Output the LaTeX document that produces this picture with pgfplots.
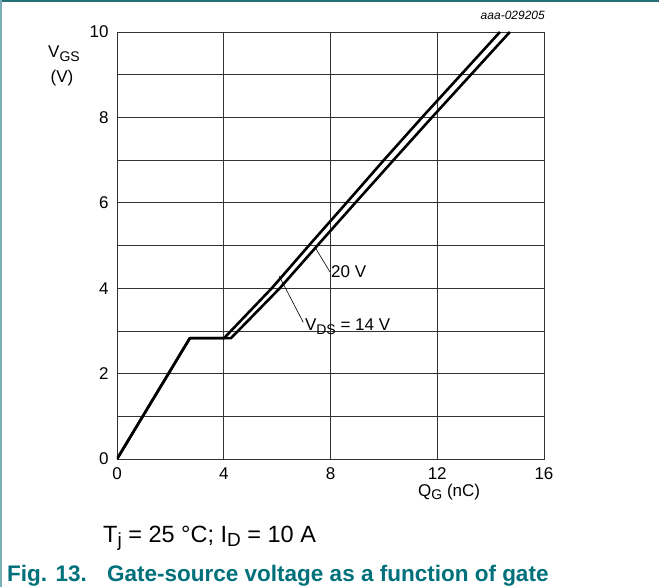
\documentclass[border=0pt]{standalone}
\usepackage{fontspec}
\setmainfont{Liberation Sans}
\usepackage{pgfplots}
\pgfplotsset{compat=1.18}
\definecolor{nxpteal}{RGB}{0,112,122}
\definecolor{nxpline}{RGB}{40,110,118}
\definecolor{nxpleft}{RGB}{120,175,182}
\newcommand\sub[1]{\raisebox{-0.4ex}{\fontsize{14}{16}\selectfont #1}}
\newcommand\bigsub[1]{\raisebox{-0.4ex}{\fontsize{19}{22}\selectfont #1}}
\begin{document}
\begin{tikzpicture}[x=1pt,y=1pt]
\useasboundingbox (-117,-128) rectangle (542,459);
\draw[nxpline, line width=1.6pt] (-117,458) -- (542,458);
\draw[nxpleft, line width=1.4pt] (-116,459) -- (-116,-128);
\begin{axis}[at={(0,0)}, anchor=south west, scale only axis,
  width=427pt, height=427pt,
  xmin=0, xmax=16, ymin=0, ymax=10,
  xtick={0,4,...,16}, ytick={0,2,...,10}, minor ytick={1,3,...,9},
  grid=both,
  major grid style={black!80, line width=0.7pt},
  minor grid style={black!80, line width=0.7pt},
  tick style={draw=none},
  axis line style={black!80, line width=0.8pt},
  /pgf/number format/assume math mode=true,
  ticklabel style={font=\fontsize{17}{20}\selectfont},
  xticklabel style={yshift=-5pt},
  yticklabel style={xshift=-5pt},
]
\addplot[black, line width=2.6pt, line join=round] coordinates {
(0,0) (2.73,2.83) (4.01,2.83) (5.8,4) (7.19,5) (8.6,6) (10.0,7) (11.43,8) (12.89,9) (14.35,10)};
\addplot[black, line width=2.6pt, line join=round] coordinates {
(0,0) (2.73,2.83) (4.27,2.83) (6.1,4) (7.51,5) (8.93,6) (10.36,7) (11.8,8) (13.26,9) (14.72,10)};
\draw[black, line width=0.6pt] (axis cs:7.42,4.96) -- (axis cs:7.98,4.38);
\node[anchor=base west, inner sep=1pt, font=\fontsize{17}{20}\selectfont] at (axis cs:7.98,4.26) {20 V};
\draw[black, line width=0.6pt] (axis cs:6.08,4.28) -- (axis cs:6.98,3.2);
\node[anchor=base west, inner sep=1pt, font=\fontsize{17}{20}\selectfont] at (axis cs:7.0,3.0) {V\sub{DS} = 14 V};
\end{axis}
\node[anchor=base east, inner sep=0pt, font=\itshape\fontsize{12}{14}\selectfont] at (428,439) {aaa-029205};
\node[anchor=base, inner sep=0pt, font=\fontsize{17}{20}\selectfont] at (-53,401) {V\sub{GS}};
\node[anchor=base, inner sep=0pt, font=\fontsize{17}{20}\selectfont] at (-55,376) {(V)};
\node[anchor=base west, inner sep=0pt, font=\fontsize{17}{20}\selectfont] at (301,-37) {Q\sub{G} (nC)};
\node[anchor=base west, inner sep=0pt, font=\fontsize{23.5}{28}\selectfont] at (-14,-83) {T\bigsub{j} = 25 °C; I\bigsub{D} = 10 A};
\node[anchor=base west, inner sep=0pt, text=nxpteal, font=\bfseries\fontsize{22.5}{27}\selectfont] at (-110,-122) {Fig. 13.};
\node[anchor=base west, inner sep=0pt, text=nxpteal, font=\bfseries\fontsize{22.5}{27}\selectfont] at (-10,-122) {Gate-source voltage as a function of gate};
\end{tikzpicture}
\end{document}
